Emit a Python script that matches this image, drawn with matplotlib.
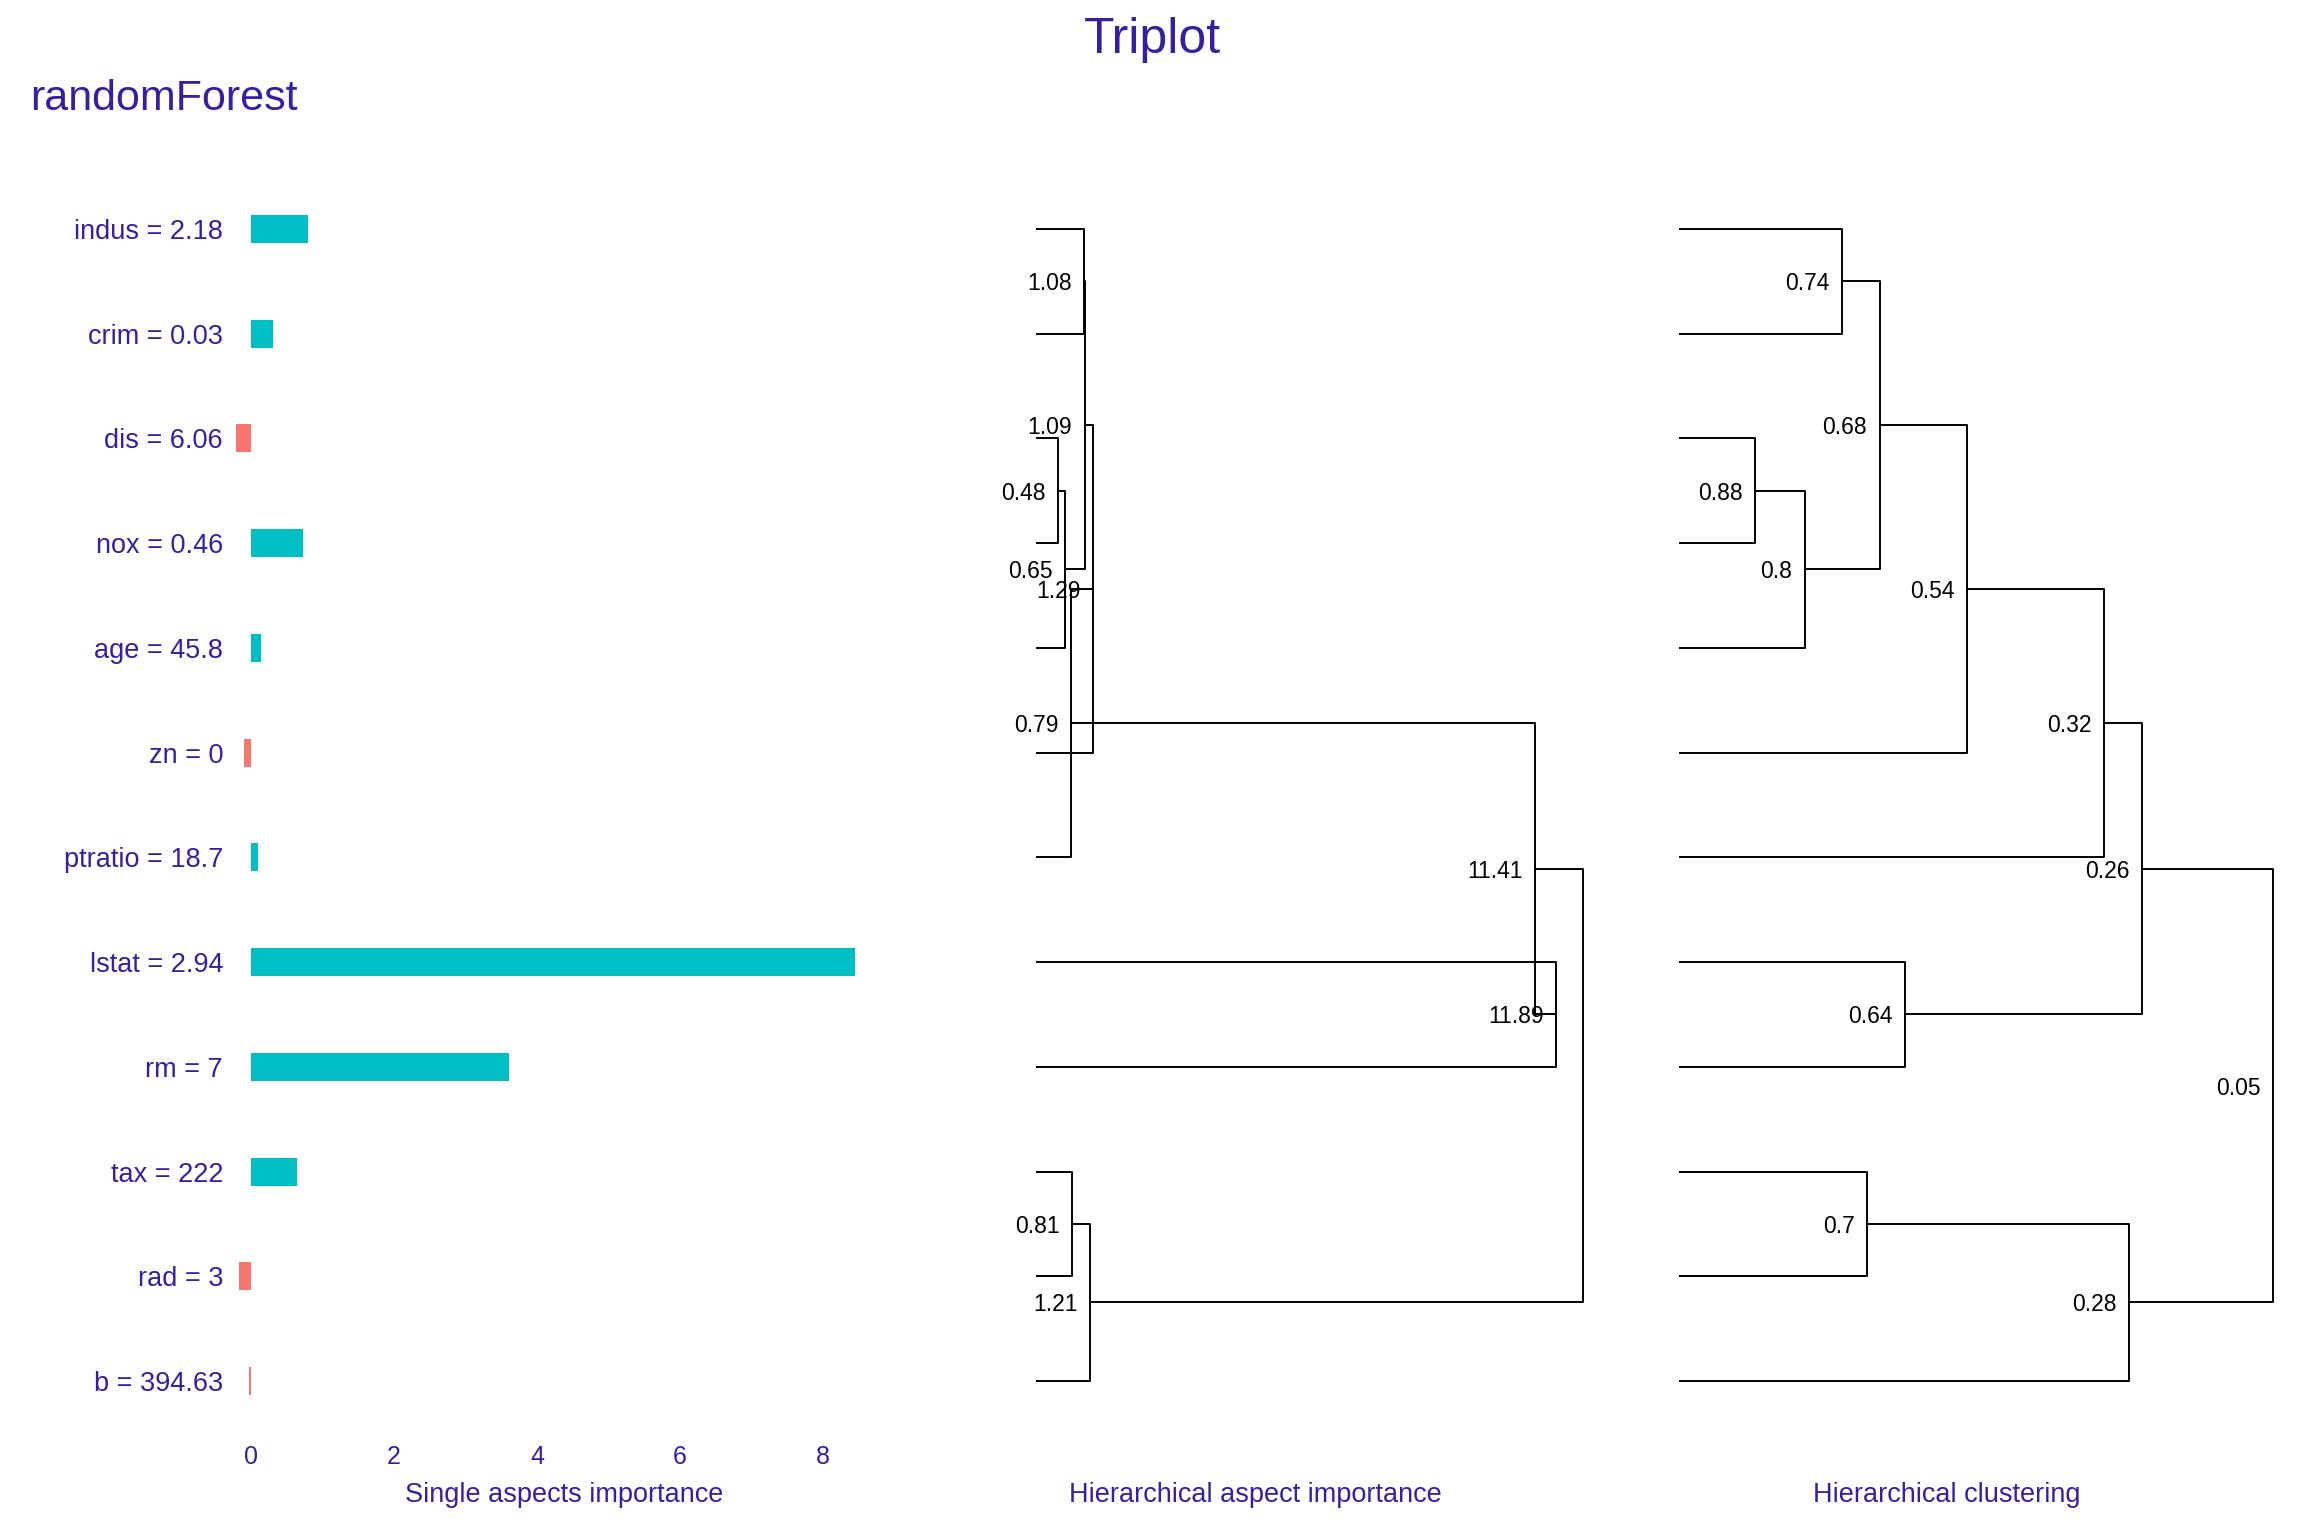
''' Triplot: single aspect importance, hierarchical aspect importance
    and hierarchical clustering of the features.
'''
import matplotlib.pyplot as plt

W, H, DPI = 2304, 1536, 100
PURPLE = '#371EA3'

plt.rcParams['font.family'] = ['Liberation Sans', 'DejaVu Sans']

# features, top to bottom
features = ['indus', 'crim', 'dis', 'nox', 'age', 'zn', 'ptratio',
            'lstat', 'rm', 'tax', 'rad', 'b']
feature_values = ['2.18', '0.03', '6.06', '0.46', '45.8', '0', '18.7',
                  '2.94', '7', '222', '3', '394.63']
single_importance = [0.80, 0.31, -0.21, 0.73, 0.14, -0.10, 0.10,
                     8.45, 3.61, 0.64, -0.17, -0.03]

# merges: leaves are 0-11, merged nodes numbered from 12 on
merge_left = [0, 2, 13, 12, 15, 16, 7, 17, 9, 20, 19]
merge_right = [1, 3, 4, 14, 5, 6, 8, 18, 10, 11, 21]
aspect_importance = [1.08, 0.48, 0.65, 1.09, 1.29, 0.79, 11.89, 11.41, 0.81, 1.21, 12.5]
aspect_labels = ['1.08', '0.48', '0.65', '1.09', '1.29', '0.79', '11.89', '11.41',
                 '0.81', '1.21', '']
cluster_similarity = [0.74, 0.88, 0.80, 0.68, 0.54, 0.32, 0.64, 0.26, 0.70, 0.28, 0.05]
cluster_labels = ['0.74', '0.88', '0.8', '0.68', '0.54', '0.32', '0.64', '0.26',
                  '0.7', '0.28', '0.05']


def px_axes(fig, left, top, right, bottom):
    ''' add axes given in pixel coords (top-left origin) '''
    return fig.add_axes([left / W, 1 - bottom / H, (right - left) / W, (bottom - top) / H])


def clean(ax):
    for s in ax.spines.values():
        s.set_visible(False)
    ax.set_ylim(12.5635, 0.4365)


def draw_dendrogram(ax, heights, labels):
    n = len(features)
    pos = {i: i + 1 for i in range(n)}
    hgt = {i: 0.0 for i in range(n)}
    for k, (a, b) in enumerate(zip(merge_left, merge_right)):
        h = heights[k]
        ya, yb = pos[a], pos[b]
        ax.plot([hgt[a], h, h, hgt[b]], [ya, ya, yb, yb], color='black', lw=1.4,
                clip_on=False)
        node = n + k
        pos[node] = (ya + yb) / 2
        hgt[node] = h
        if labels[k]:
            ax.annotate(labels[k], (h, pos[node]), xytext=(-9, 0), textcoords='offset points',
                        ha='right', va='center_baseline', fontsize=16.5, color='black',
                        annotation_clip=False)
    ax.set_xticks([])
    ax.set_yticks([])


fig = plt.figure(figsize=(W / DPI, H / DPI), dpi=DPI)

# single aspects importance
ax1 = px_axes(fig, 230, 170, 896, 1440)
clean(ax1)
ypos = list(range(1, len(features) + 1))
colors = ['#00BFC4' if v > 0 else '#F8766D' for v in single_importance]
ax1.barh(ypos, single_importance, height=0.267, color=colors)
ax1.set_xlim(-0.294, 9.02)
ax1.set_yticks(ypos)
ax1.set_yticklabels(['{} = {}'.format(f, v) for f, v in zip(features, feature_values)],
                    fontsize=19.5, color=PURPLE)
ax1.set_xticks([0, 2, 4, 6, 8])
ax1.tick_params(axis='y', length=0, pad=5)
ax1.tick_params(axis='x', length=0, pad=3.6, labelsize=18, labelcolor=PURPLE)

# hierarchical aspect importance
ax2 = px_axes(fig, 975, 170, 1535, 1440)
clean(ax2)
draw_dendrogram(ax2, aspect_importance, aspect_labels)
ax2.set_xlim(-1.42, 11.41)

# hierarchical clustering (distance = 1 - similarity)
ax3 = px_axes(fig, 1620, 170, 2274, 1440)
clean(ax3)
draw_dendrogram(ax3, [1 - s for s in cluster_similarity], cluster_labels)
ax3.set_xlim(-0.0962, 0.9519)

for x, txt in [(564, 'Single aspects importance'),
               (1255, 'Hierarchical aspect importance'),
               (1947, 'Hierarchical clustering')]:
    fig.text(x / W, 1 - 1502 / H, txt, ha='center', va='baseline', fontsize=19.5, color=PURPLE)

fig.text(0.5, 1 - 53 / H, 'Triplot', ha='center', va='baseline', fontsize=36, color=PURPLE)
fig.text(30 / W, 1 - 110 / H, 'randomForest', ha='left', va='baseline', fontsize=31,
         color=PURPLE)

fig.savefig('out.png', dpi=DPI)
